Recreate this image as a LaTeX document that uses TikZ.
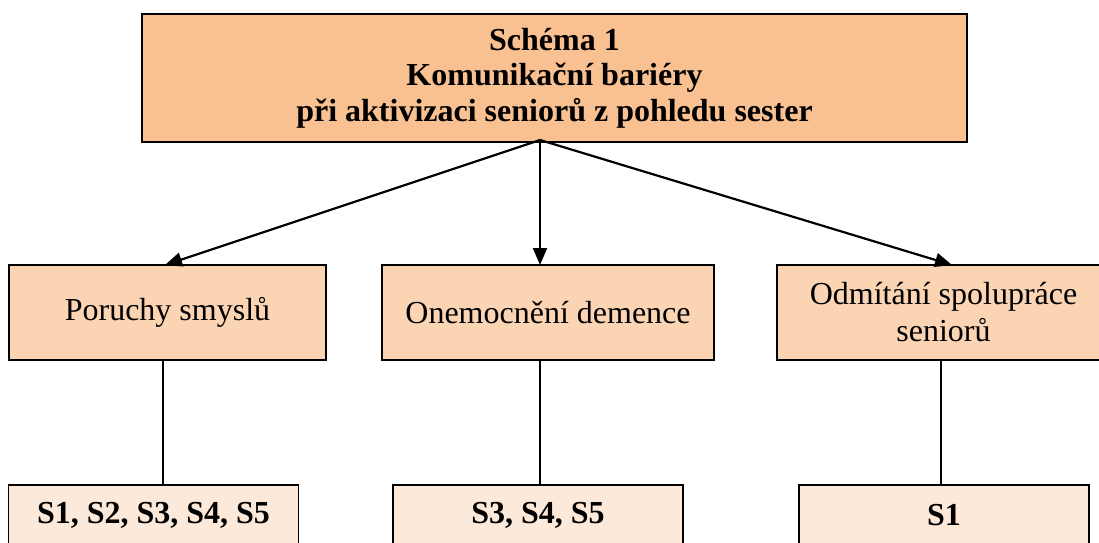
\documentclass[tikz,border=0pt]{standalone}
\usepackage{fontspec}
\setmainfont{Liberation Serif}
\usetikzlibrary{arrows.meta}
\definecolor{headfill}{HTML}{F9C091}
\definecolor{catfill}{HTML}{FBD4B4}
\definecolor{respfill}{HTML}{FDE9D9}
\begin{document}
\begin{tikzpicture}[x=1pt,y=-1pt,
  box/.style={draw=black, line width=1.5pt, inner sep=0pt, align=center,
    font=\fontsize{32}{37}\selectfont},
  headbox/.style={box, fill=headfill, minimum width=825pt, minimum height=128pt,
    font=\fontsize{32}{35.5}\selectfont\bfseries},
  catbox/.style={box, fill=catfill, minimum width=#1, minimum height=95pt},
  respbox/.style={box, fill=respfill, minimum width=290pt, minimum height=60pt,
    font=\fontsize{32}{37}\selectfont\bfseries},
  branch/.style={line width=2.2pt, -{Triangle[length=17pt,width=14pt]}},
  link/.style={line width=1.6pt}]
\clip (0,0) rectangle (1099,542);
\useasboundingbox (0,0) rectangle (1099,542);
\fill[white] (0,0) rectangle (1099,542);

% heading
\node[headbox] (head) at (554.5,78) {Schéma 1\\Komunikační bariéry\\při aktivizaci seniorů z pohledu sester};

% categories
\node[catbox=317pt] (cat1) at (167.5,312.5) {Poruchy smyslů};
\node[catbox=332pt] (cat2) at (548,312.5) {Onemocnění demence};
\node[catbox=333pt] (cat3) at (943.5,312.5) {Odmítání spolupráce\\seniorů};

% respondents
\node[respbox] (resp1) at (153.5,515) {S1, S2, S3, S4, S5};
\node[respbox] (resp2) at (538,515) {S3, S4, S5};
\node[respbox] (resp3) at (944,515) {S1};

% arrows from the heading
\coordinate (hub) at (540,140);
\coordinate (tip1) at (165,265);
\coordinate (tip2) at (540,265);
\coordinate (tip3) at (952,265);
\draw[branch] (hub) -- (tip1);
\draw[branch] (hub) -- (tip2);
\draw[branch] (hub) -- (tip3);

% plain links to the respondent boxes
\draw[link] (cat1.south -| 163,0) -- (resp1.north -| 163,0);
\draw[link] (cat2.south -| 540,0) -- (resp2.north -| 540,0);
\draw[link] (cat3.south -| 941,0) -- (resp3.north -| 941,0);
\end{tikzpicture}
\end{document}
